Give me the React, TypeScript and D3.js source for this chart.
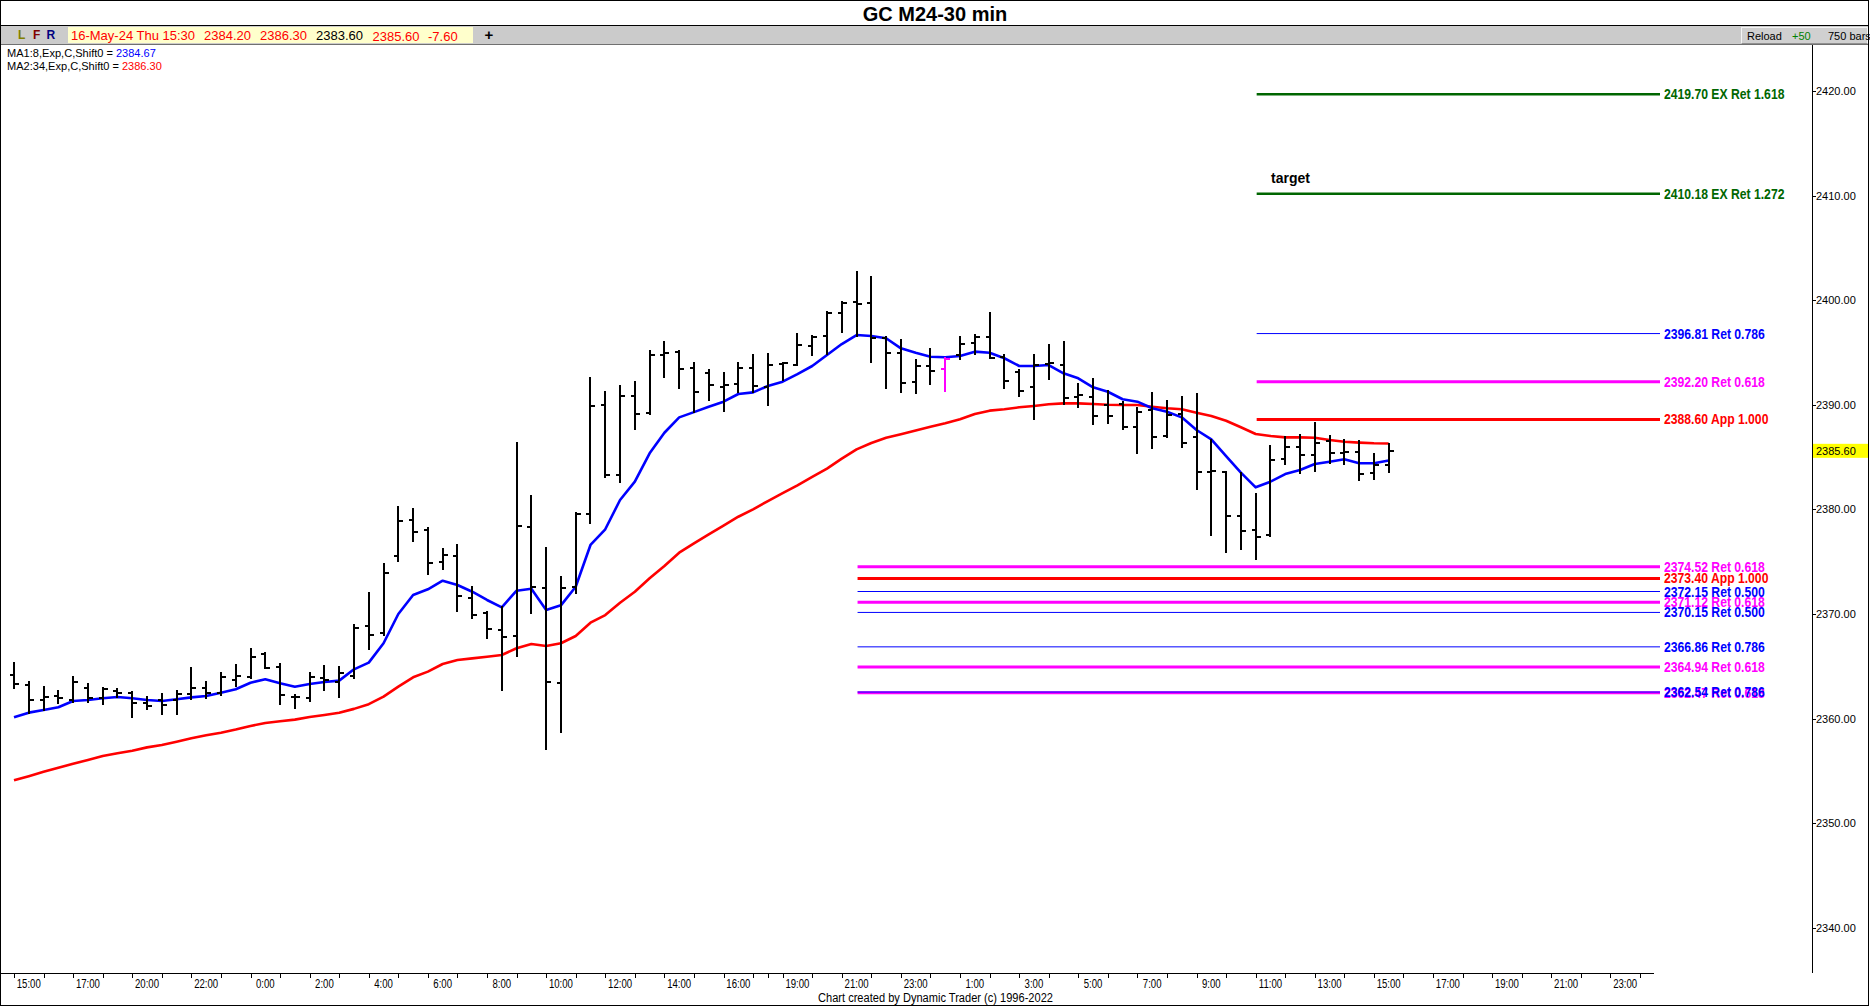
import React from "react";
import * as d3 from "d3";

// ---------- data ----------
const barOpen = [
  2364.2, 2363.2, 2361.8, 2362.17, 2361.8, 2362.9, 2361.95, 2362.67, 2362.48, 2361.53,
  2361.8, 2361.8, 2362.35, 2362.9, 2362.48, 2363.7, 2363.95, 2366.14, 2364.97, 2362.03,
  2361.95, 2363.85, 2363.53, 2364.07, 2368.9, 2368.15, 2375.5, 2378.99, 2378.0, 2375.0,
  2375.5, 2371.57, 2370.1, 2368.47, 2367.9, 2378.29, 2372.52, 2363.44, 2372.62, 2379.54,
  2389.98, 2383.29, 2390.84, 2389.25, 2394.76, 2395.08, 2393.49, 2393.01, 2391.7, 2391.99,
  2393.55, 2391.73, 2393.9, 2393.8, 2395.62, 2396.58, 2398.81, 2399.8, 2399.7, 2396.36,
  2395.0, 2392.22, 2393.7, 2393.39, 2394.76, 2395.87, 2396.45, 2394.6, 2393.17, 2391.67,
  2393.9, 2393.8, 2390.77, 2390.72, 2389.98, 2390.08, 2387.85, 2389.5, 2387.01, 2389.12,
  2386.95, 2383.6, 2383.6, 2379.37, 2378.03, 2377.55, 2384.79, 2385.99, 2385.2, 2386.57,
  2385.42, 2385.52, 2383.45, 2384.2,
];
const barHigh = [
  2365.3, 2363.5, 2363.05, 2362.67, 2363.95, 2363.3, 2362.9, 2362.8, 2362.58, 2362.03,
  2362.35, 2362.67, 2364.8, 2363.53, 2364.4, 2365.1, 2366.7, 2366.24, 2365.2, 2362.26,
  2364.4, 2365.03, 2364.97, 2368.95, 2372.0, 2374.8, 2380.2, 2380.04, 2378.19, 2376.18,
  2376.6, 2372.55, 2370.23, 2370.64, 2386.32, 2381.28, 2376.28, 2373.52, 2379.63, 2392.53,
  2391.2, 2391.8, 2392.21, 2395.17, 2396.03, 2395.17, 2393.96, 2393.33, 2393.01, 2393.96,
  2394.76, 2394.86, 2394.03, 2396.77, 2396.58, 2398.9, 2399.86, 2402.68, 2402.19, 2396.51,
  2396.2, 2394.28, 2395.31, 2394.44, 2396.45, 2396.67, 2398.75, 2394.76, 2393.33, 2394.76,
  2395.72, 2396.03, 2391.99, 2392.44, 2391.35, 2390.3, 2389.67, 2391.1, 2390.36, 2390.77,
  2391.0, 2386.63, 2383.6, 2383.45, 2381.47, 2386.06, 2386.95, 2387.11, 2388.23, 2387.02,
  2386.63, 2386.57, 2385.3, 2386.3,
];
const barLow = [
  2362.9, 2360.5, 2360.8, 2361.47, 2361.6, 2361.6, 2361.4, 2362.1, 2360.19, 2360.88,
  2360.44, 2360.44, 2361.85, 2361.95, 2362.26, 2363.1, 2363.85, 2364.87, 2361.38, 2360.98,
  2361.7, 2362.74, 2362.03, 2363.85, 2366.7, 2368.0, 2375.1, 2377.01, 2373.82, 2374.27,
  2370.29, 2369.6, 2367.68, 2362.74, 2365.99, 2370.07, 2357.06, 2358.76, 2371.98, 2378.74,
  2383.13, 2382.65, 2387.66, 2389.12, 2392.68, 2391.57, 2389.34, 2390.46, 2389.44, 2391.25,
  2391.25, 2389.98, 2392.37, 2393.8, 2394.76, 2394.86, 2396.99, 2396.58, 2394.12, 2391.57,
  2391.25, 2391.16, 2391.99, 2391.35, 2394.35, 2394.86, 2394.44, 2391.57, 2390.84, 2388.61,
  2392.44, 2390.08, 2389.76, 2388.16, 2388.23, 2387.66, 2385.36, 2385.84, 2386.95, 2385.99,
  2381.92, 2377.55, 2375.96, 2376.18, 2375.24, 2377.46, 2384.34, 2383.51, 2383.7, 2384.41,
  2384.34, 2382.81, 2382.88, 2383.6,
];
const barClose = [
  2363.3, 2361.8, 2362.1, 2361.95, 2363.5, 2361.95, 2362.83, 2362.42, 2361.47, 2361.2,
  2361.3, 2362.35, 2362.9, 2362.42, 2364.0, 2364.07, 2365.9, 2364.87, 2362.26, 2362.1,
  2363.95, 2363.7, 2364.33, 2368.64, 2368.0, 2373.9, 2378.9, 2377.87, 2374.9, 2375.64,
  2371.75, 2369.9, 2368.54, 2367.83, 2378.44, 2372.62, 2363.53, 2372.46, 2379.56, 2389.89,
  2383.29, 2390.84, 2389.12, 2394.76, 2394.92, 2393.42, 2391.25, 2391.89, 2391.89, 2393.49,
  2391.8, 2393.8, 2393.96, 2395.72, 2396.51, 2398.81, 2399.76, 2399.6, 2396.36, 2395.0,
  2392.12, 2393.7, 2393.26, 2394.38, 2395.81, 2396.45, 2394.51, 2392.31, 2391.35, 2393.8,
  2393.96, 2390.68, 2390.94, 2388.96, 2388.96, 2387.85, 2389.34, 2386.89, 2389.02, 2386.38,
  2383.6, 2383.7, 2379.37, 2377.97, 2377.33, 2384.72, 2385.99, 2385.2, 2386.38, 2385.42,
  2385.5, 2383.35, 2384.25, 2385.6,
];
const ma8 = [
  2360.12, 2360.57, 2360.82, 2361.08, 2361.68, 2361.78, 2361.94, 2362.07, 2361.94, 2361.78,
  2361.68, 2361.85, 2362.03, 2362.16, 2362.48, 2362.8, 2363.43, 2363.76, 2363.38, 2363.05,
  2363.31, 2363.5, 2363.63, 2364.71, 2365.35, 2367.2, 2370.0, 2371.82, 2372.36, 2373.18,
  2372.77, 2372.13, 2371.34, 2370.64, 2372.23, 2372.42, 2370.38, 2370.83, 2372.61, 2376.6,
  2378.1, 2380.9, 2382.65, 2385.36, 2387.33, 2388.8, 2389.3, 2389.82, 2390.3, 2391.03,
  2391.19, 2391.8, 2392.21, 2392.94, 2393.71, 2394.76, 2395.81, 2396.67, 2396.58, 2396.36,
  2395.4, 2394.98, 2394.6, 2394.54, 2394.67, 2395.08, 2394.98, 2394.45, 2393.71, 2393.71,
  2393.8, 2393.01, 2392.53, 2391.67, 2391.25, 2390.53, 2390.3, 2389.67, 2389.34, 2388.8,
  2387.59, 2386.7, 2385.1, 2383.51, 2382.11, 2382.65, 2383.38, 2383.77, 2384.34, 2384.56,
  2384.79, 2384.41, 2384.41, 2384.67,
];
const ma34 = [
  2354.1, 2354.5, 2354.92, 2355.31, 2355.69, 2356.04, 2356.42, 2356.68, 2356.93, 2357.25,
  2357.48, 2357.79, 2358.12, 2358.4, 2358.65, 2358.95, 2359.3, 2359.58, 2359.75, 2359.9,
  2360.15, 2360.34, 2360.56, 2360.93, 2361.38, 2362.1, 2363.05, 2363.95, 2364.49, 2365.22,
  2365.6, 2365.76, 2365.92, 2366.08, 2366.72, 2367.13, 2366.94, 2367.2, 2367.9, 2369.17,
  2369.9, 2371.08, 2372.13, 2373.41, 2374.59, 2375.86, 2376.76, 2377.62, 2378.44, 2379.3,
  2380.0, 2380.8, 2381.55, 2382.3, 2383.1, 2383.9, 2384.85, 2385.74, 2386.35, 2386.85,
  2387.19, 2387.55, 2387.91, 2388.23, 2388.61, 2389.12, 2389.44, 2389.57, 2389.76, 2389.89,
  2390.05, 2390.14, 2390.14, 2390.08, 2390.01, 2389.98, 2389.98, 2389.82, 2389.67, 2389.57,
  2389.24, 2388.93, 2388.48, 2387.85, 2387.21, 2387.02, 2386.89, 2386.89, 2386.85, 2386.63,
  2386.47, 2386.38, 2386.32, 2386.3,
];
const highlightedBar = 63;

const timeLabels = [
  "15:00", "17:00", "20:00", "22:00", "0:00", "2:00", "4:00", "6:00", "8:00", "10:00",
  "12:00", "14:00", "16:00", "19:00", "21:00", "23:00", "1:00", "3:00", "5:00", "7:00",
  "9:00", "11:00", "13:00", "15:00", "17:00", "19:00", "21:00", "23:00",
];
const priceTicks = [2340, 2350, 2360, 2370, 2380, 2390, 2400, 2410, 2420];

const levelPrices = [
  2419.7, 2410.18, 2396.81, 2392.2, 2388.6, 2374.52, 2373.4, 2372.15, 2371.12, 2370.15,
  2366.86, 2364.94, 2362.47, 2362.54,
];
const levelTexts = [
  "EX Ret 1.618", "EX Ret 1.272", "Ret 0.786", "Ret 0.618", "App 1.000", "Ret 0.618",
  "App 1.000", "Ret 0.500", "Ret 0.618", "Ret 0.500", "Ret 0.786", "Ret 0.618",
  "Ret 0.618", "Ret 0.786",
];
const levelStartBar = [84, 84, 84, 84, 84, 57, 57, 57, 57, 57, 57, 57, 57, 57];

const titleText = "GC M24-30 min";
const dateText = "16-May-24 Thu 15:30";
const netChange = -7.6;
const footerText = "Chart created by Dynamic Trader  (c) 1996-2022";

// ---------- styling ----------
const FONT = "'Liberation Sans', Arial, sans-serif";
function levelStyle(t: string) {
  if (t.startsWith("EX")) return { color: "#006600", w: 2.5, order: 3 };
  if (t.startsWith("App")) return { color: "#ff0000", w: 3, order: 1 };
  if (t.endsWith("0.618")) return { color: "#ff00ff", w: 3, order: 0 };
  return { color: "#0000ff", w: 1, order: 2 };
}

export default function App() {
  const W = 1870;
  const H = 1007;
  const last = barClose.length - 1;
  const x = d3.scaleLinear().domain([0, last]).range([14, 1388.7]);
  const y = d3.scaleLinear().domain([2340, 2420]).range([927.8, 91]);
  const axisRight = 1812;
  const xAxisY = 973;
  const levelEndX = 1660;

  const line = d3
    .line<number>()
    .x((_, i) => x(i))
    .y((d) => y(d));

  const xTicks: number[] = [];
  for (let i = 0; i <= 110; i += 2) xTicks.push(i);
  xTicks.push(51);

  const levelOrder = levelPrices
    .map((_, i) => i)
    .sort((a, b) => levelStyle(levelTexts[a]).order - levelStyle(levelTexts[b]).order);

  const lastClose = barClose[last];

  return (
    <div style={{ position: "fixed", left: 0, top: 0 }}>
      <svg width={W} height={H} style={{ display: "block", background: "#fff" }} fontFamily={FONT}>
        <rect x={0} y={0} width={W} height={H} fill="#fff" />
        {/* title */}
        <text x={935} y={21} textAnchor="middle" fontSize={20} fontWeight="bold" fill="#000">
          {titleText}
        </text>
        {/* toolbar */}
        <rect x={0} y={25} width={1868} height={20} fill="#cbcbcb" />
        <line x1={0} x2={1868} y1={25.5} y2={25.5} stroke="#000" />
        <line x1={0} x2={1868} y1={44.5} y2={44.5} stroke="#707070" />
        <text x={18} y={39} fontSize={12} fontWeight="bold" fill="#808000">L</text>
        <text x={33} y={39} fontSize={12} fontWeight="bold" fill="#800000">F</text>
        <text x={46.5} y={39} fontSize={12} fontWeight="bold" fill="#000080">R</text>
        <rect x={68} y={27} width={405} height={16} fill="#ffffcc" />
        <g fontSize={13}>
          <text x={71} y={40} fill="#ff0000">{dateText}</text>
          <text x={204} y={40} fill="#ff0000">{barOpen[last].toFixed(2)}</text>
          <text x={260} y={40} fill="#ff0000">{barHigh[last].toFixed(2)}</text>
          <text x={316} y={40} fill="#000">{barLow[last].toFixed(2)}</text>
          <text x={372.5} y={40.5} fill="#ff0000">{lastClose.toFixed(2)}</text>
          <text x={428} y={40.5} fill="#ff0000">{netChange.toFixed(2)}</text>
        </g>
        <text x={489} y={40} textAnchor="middle" fontSize={15} fontWeight="bold" fill="#000">+</text>
        <rect x={1741.5} y={27.5} width={126} height={16} fill="#d0d0d0" stroke="#f4f4f4" />
        <line x1={1741.5} x2={1867.5} y1={43.5} y2={43.5} stroke="#909090" />
        <g fontSize={11}>
          <text x={1747} y={39.5} fill="#000">Reload</text>
          <text x={1792} y={39.5} fill="#008000">+50</text>
          <text x={1828} y={39.5} fill="#000">750 bars</text>
        </g>
        {/* MA legend */}
        <g fontSize={11}>
          <text x={7} y={56.5} fill="#000" textLength={106} lengthAdjust="spacingAndGlyphs">MA1:8,Exp,C,Shift0 =</text>
          <text x={116} y={56.5} fill="#0000ff">{ma8[last].toFixed(2)}</text>
          <text x={7} y={69.5} fill="#000" textLength={112} lengthAdjust="spacingAndGlyphs">MA2:34,Exp,C,Shift0 =</text>
          <text x={122} y={69.5} fill="#ff0000">{ma34[last].toFixed(2)}</text>
        </g>

        {/* fib levels */}
        {levelOrder.map((i) => {
          const st = levelStyle(levelTexts[i]);
          const yy = y(levelPrices[i]);
          return (
            <line
              key={"l" + i}
              x1={x(levelStartBar[i]) + 1}
              x2={levelEndX}
              y1={yy}
              y2={yy}
              stroke={st.color}
              strokeWidth={st.w}
            />
          );
        })}
        {levelOrder.map((i) => {
          const st = levelStyle(levelTexts[i]);
          const yy = y(levelPrices[i]);
          return (
            <text
              key={"t" + i}
              transform={`translate(1664,${yy + 5}) scale(0.87,1)`}
              fontSize={14}
              fontWeight="bold"
              fill={st.color}
            >
              {`${levelPrices[i].toFixed(2)} ${levelTexts[i]}`}
            </text>
          );
        })}
        <text x={1271} y={183} fontSize={14} fontWeight="bold" fill="#000">target</text>

        {/* moving averages */}
        <path d={line(ma34) || ""} fill="none" stroke="#ff0000" strokeWidth={2.6} strokeLinejoin="round" />
        <path d={line(ma8) || ""} fill="none" stroke="#0000ff" strokeWidth={2.6} strokeLinejoin="round" />

        {/* OHLC bars */}
        <g shapeRendering="crispEdges" strokeWidth={2}>
          {barClose.map((c, i) => {
            const xi = Math.round(x(i));
            const col = i === highlightedBar ? "#ff00ff" : "#000";
            return (
              <g key={i} stroke={col}>
                <line x1={xi} x2={xi} y1={y(barHigh[i]) - 1} y2={y(barLow[i]) + 1} />
                <line x1={xi - 4} x2={xi} y1={y(barOpen[i])} y2={y(barOpen[i])} />
                <line x1={xi} x2={xi + 5} y1={y(c)} y2={y(c)} />
              </g>
            );
          })}
        </g>

        {/* price axis */}
        <line x1={axisRight + 0.5} x2={axisRight + 0.5} y1={45} y2={xAxisY} stroke="#000" />
        {priceTicks.map((p) => (
          <g key={p}>
            <line x1={axisRight} x2={axisRight + 4} y1={Math.round(y(p)) + 0.5} y2={Math.round(y(p)) + 0.5} stroke="#000" />
            <text x={axisRight + 4} y={y(p) + 4} fontSize={11} fill="#000">
              {p.toFixed(2)}
            </text>
          </g>
        ))}
        <rect x={axisRight + 1} y={y(lastClose) - 7} width={W - axisRight - 2} height={14} fill="#ffff00" />
        <text x={axisRight + 4} y={y(lastClose) + 4} fontSize={11} fill="#000">
          {lastClose.toFixed(2)}
        </text>

        {/* time axis */}
        <line x1={0} x2={1654} y1={xAxisY + 0.5} y2={xAxisY + 0.5} stroke="#000" />
        {xTicks.map((t) => (
          <line key={"xt" + t} x1={Math.round(x(t)) + 0.5} x2={Math.round(x(t)) + 0.5} y1={xAxisY} y2={xAxisY + 5} stroke="#000" />
        ))}
        {timeLabels.map((lab, k) => (
          <text
            key={"xl" + k}
            transform={`translate(${x(1 + 4 * k)},988) scale(0.8,1)`}
            textAnchor="middle"
            fontSize={12}
            fill="#000"
          >
            {lab}
          </text>
        ))}
        <text x={935.5} y={1002} textAnchor="middle" fontSize={12} fill="#000" textLength={235} lengthAdjust="spacingAndGlyphs">
          {footerText}
        </text>

        {/* outer frame */}
        <rect x={0.5} y={0.5} width={1868} height={1005} fill="none" stroke="#000" />
      </svg>
    </div>
  );
}
